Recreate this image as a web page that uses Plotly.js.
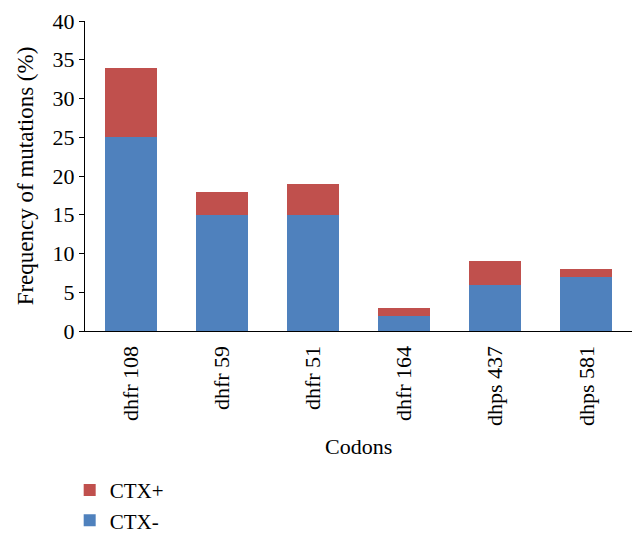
<!DOCTYPE html>
<html><head><meta charset="utf-8">
<script src="https://cdn.plot.ly/plotly-3.0.1.min.js"></script>
<style>html,body{margin:0;padding:0;background:#fff}#c{width:643px;height:540px}</style>
</head><body><div id="c"></div>
<script>
const categories = ["dhfr 108","dhfr 59","dhfr 51","dhfr 164","dhps 437","dhps 581"];
const ctxMinus = [25,15,15,2,6,7];
const ctxPlus = [9,3,4,1,3,1];
const yTicks = [0,5,10,15,20,25,30,35,40];

const font = {family:"Liberation Serif, 'Times New Roman', serif", color:"#000", size:21};
const traces = [
  {type:'bar', name:'CTX-', x:categories, y:ctxMinus, marker:{color:'#4F81BD'}, width:0.57, legendgroup:'b', legendrank:2},
  {type:'bar', name:'CTX+', x:categories, y:ctxPlus, marker:{color:'#C0504D'}, width:0.57, legendgroup:'a', legendrank:1}
];
const layout = {
  width:643, height:540, barmode:'stack',
  margin:{l:85, r:11, t:21, b:209, autoexpand:false},
  font:font, paper_bgcolor:'#fff', plot_bgcolor:'#fff',
  xaxis:{type:'category', tickangle:-90, showline:true, linecolor:'#000', linewidth:1.3, automargin:false,
         ticks:'outside', ticklen:5, tickcolor:'rgba(0,0,0,0)', showgrid:false, tickfont:{size:22}},
  yaxis:{range:[0,40], tickvals:yTicks, showline:true, linecolor:'#000', linewidth:1.3, ticks:'outside', ticklen:5, tickcolor:'#000',
         automargin:false, showgrid:false, zeroline:false, tickfont:{size:22},
         title:{text:'Frequency of mutations (%)', font:{size:23}, standoff:12}},
  annotations:[{text:'Codons', xref:'paper', yref:'paper', x:0.5, y:-0.374, xanchor:'center', yanchor:'middle',
                showarrow:false, font:{size:22}}],
  showlegend:true,
  legend:{x:-0.028, xanchor:'left', y:-0.448, yanchor:'top', traceorder:'grouped', tracegroupgap:0, font:{size:21}}
};
Plotly.newPlot('c', traces, layout, {displayModeBar:false});
</script></body></html>
